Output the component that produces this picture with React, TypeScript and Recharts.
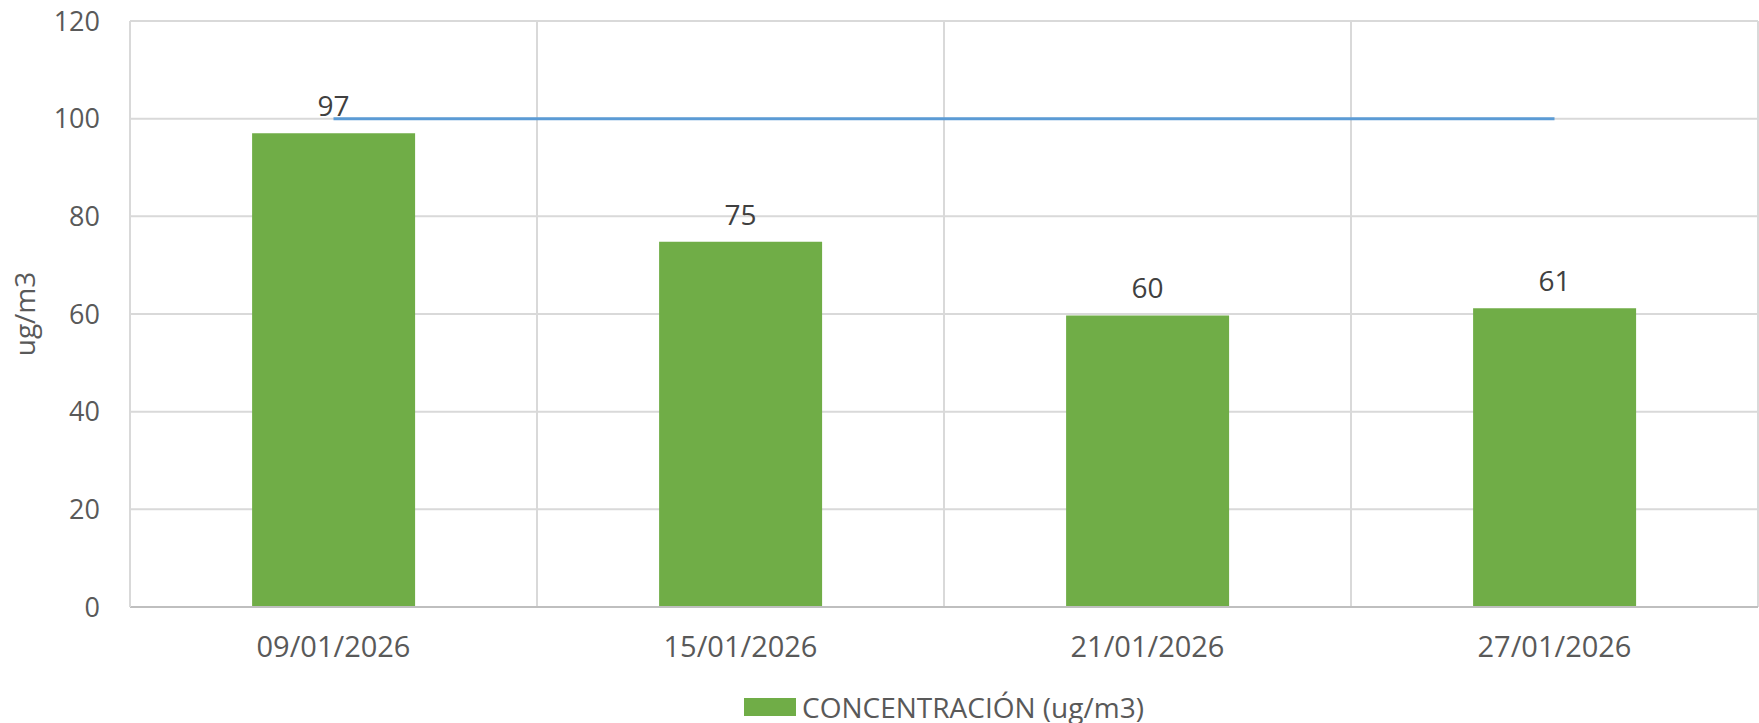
import React from 'react';
import { ComposedChart, Bar, Line, XAxis, YAxis, CartesianGrid, Legend, LabelList } from 'recharts';

const categories = ['09/01/2026', '15/01/2026', '21/01/2026', '27/01/2026'];
const concentracion = [97, 74.8, 59.7, 61.2];
const limite = [100, 100, 100, 100];
const yTicks = [0, 20, 40, 60, 80, 100, 120];

const data = categories.map((c, i) => ({ fecha: c, conc: concentracion[i], lim: limite[i] }));

const FONT = '"Open Sans", "Segoe UI", sans-serif';

const LegendContent = () => (
  <div style={{ height: 32, display: 'flex', alignItems: 'center', justifyContent: 'center', paddingLeft: 130, fontFamily: FONT, fontSize: 28, color: '#595959' }}>
    <span style={{ display: 'inline-block', width: 52, height: 18, background: '#70AD47', marginRight: 6 }} />
    <span>CONCENTRACIÓN (ug/m3)</span>
  </div>
);

export default function App() {
  return (
    <div style={{ position: 'absolute', left: 0, top: 0, width: 1759, height: 723, background: '#fff' }}>
      <ComposedChart width={1759} height={723} data={data} margin={{ top: 21, right: 1, left: 0, bottom: 0 }} barCategoryGap="30%">
        <CartesianGrid
          stroke="#D9D9D9"
          strokeWidth={2}
          verticalCoordinatesGenerator={({ offset }: any) => {
            const n = categories.length;
            const w = offset.width / n;
            return Array.from({ length: n + 1 }, (_, i) => offset.left + i * w);
          }}
        />
        <XAxis
          dataKey="fecha"
          height={84}
          tickLine={false}
          tickSize={0}
          tickMargin={29}
          axisLine={{ stroke: '#BFBFBF', strokeWidth: 2 }}
          tick={{ fill: '#595959', fontSize: 29, fontFamily: FONT }}
        />
        <YAxis
          width={130}
          domain={[0, 120]}
          ticks={yTicks}
          interval={0}
          tickLine={false}
          tickSize={0}
          tickMargin={30}
          axisLine={{ stroke: '#D9D9D9', strokeWidth: 2 }}
          tick={{ fill: '#595959', fontSize: 27, fontFamily: FONT }}
          label={{ value: 'ug/m3', angle: -90, position: 'center', dx: -40, fill: '#595959', fontSize: 28, fontFamily: FONT }}
        />
        <Legend verticalAlign="bottom" content={<LegendContent />} />
        <Bar dataKey="conc" name="CONCENTRACIÓN (ug/m3)" fill="#70AD47" isAnimationActive={false}>
          <LabelList
            dataKey="conc"
            position="top"
            offset={17}
            formatter={(v: any) => Math.round(Number(v))}
            style={{ fill: '#404040', fontSize: 28, fontFamily: FONT }}
          />
        </Bar>
        <Line dataKey="lim" stroke="#5B9BD5" strokeWidth={3} dot={false} legendType="none" isAnimationActive={false} />
      </ComposedChart>
    </div>
  );
}
